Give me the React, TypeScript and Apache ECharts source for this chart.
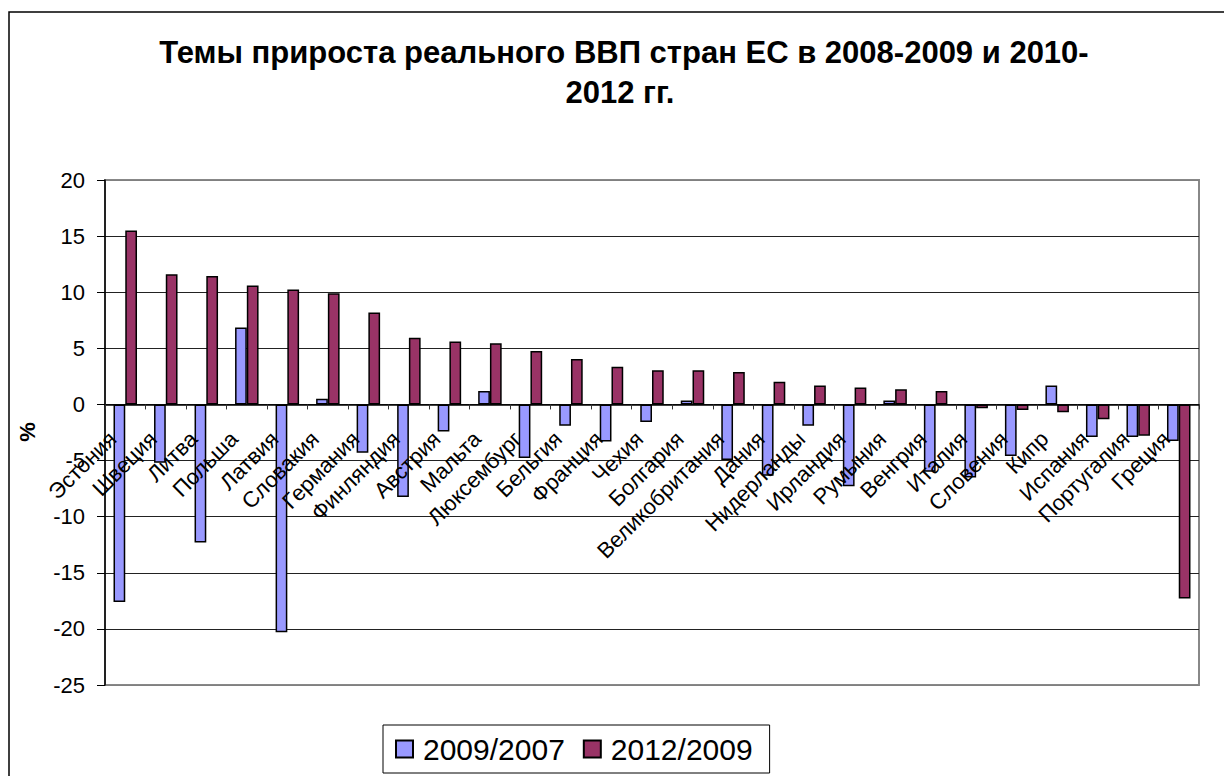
import React, { useEffect, useRef } from "react";
import * as echarts from "echarts";

const categories = [
  "Эстония", "Швеция", "Литва", "Польша", "Латвия", "Словакия", "Германия",
  "Финляндия", "Австрия", "Мальта", "Люксембург", "Бельгия", "Франция", "Чехия",
  "Болгария", "Великобритания", "Дания", "Нидерланды", "Ирландия", "Румыния",
  "Венгрия", "Италия", "Словения", "Кипр", "Испания", "Португалия", "Греция",
];

const growth2009_2007 = [
  -17.6, -5.2, -12.3, 6.85, -20.3, 0.5, -4.3, -8.25, -2.4, 1.2, -4.77, -1.9,
  -3.3, -1.56, 0.35, -4.95, -6.35, -1.9, -7.3, 0.35, -6.0, -6.5, -4.6, 1.68,
  -2.9, -2.9, -3.25,
];

const growth2012_2009 = [
  15.5, 11.6, 11.45, 10.6, 10.25, 9.9, 8.2, 5.95, 5.6, 5.45, 4.77, 4.05, 3.37,
  3.05, 3.05, 2.9, 2.03, 1.68, 1.5, 1.35, 1.2, -0.35, -0.5, -0.7, -1.32, -2.78,
  -17.3,
];

const seriesNames = ["2009/2007", "2012/2009"];
const titleLines = ["Темы прироста реального ВВП стран ЕС в 2008-2009 и 2010-", "2012 гг."];
const yTicks = { min: -25, max: 20, interval: 5 };

const FONT = "'Liberation Sans', Arial, sans-serif";

export default function App() {
  const ref = useRef<HTMLDivElement>(null);

  useEffect(() => {
    document.body.style.margin = "0";
    if (!ref.current) return;
    const chart = echarts.init(ref.current, undefined, { renderer: "svg" });
    const gridTop = 180;
    const gridBottomPx = 685;
    const zeroPx =
      gridTop + ((yTicks.max - 0) / (yTicks.max - yTicks.min)) * (gridBottomPx - gridTop);
    const splitColors = ["#808080", "#222", "#222", "#222", "#222", "#222", "#222", "#222", "#222", "#808080"];
    chart.setOption({
      animation: false,
      backgroundColor: "#fff",
      textStyle: { fontFamily: FONT },
      graphic: [
        {
          type: "rect",
          shape: { x: 9, y: 12, width: 1400, height: 1000 },
          style: { fill: "none", stroke: "#000", lineWidth: 1.5 },
          silent: true,
        },
        {
          type: "text",
          x: 624,
          y: 52,
          style: {
            text: titleLines[0],
            fontSize: 31,
            fontWeight: "bold",
            fontFamily: FONT,
            fill: "#000",
            align: "center",
            verticalAlign: "middle",
          },
        },
        {
          type: "text",
          x: 620,
          y: 92,
          style: {
            text: titleLines[1],
            fontSize: 31,
            fontWeight: "bold",
            fontFamily: FONT,
            fill: "#000",
            align: "center",
            verticalAlign: "middle",
          },
        },
        {
          type: "text",
          x: 27.5,
          y: 432,
          rotation: Math.PI / 2,
          style: {
            text: "%",
            fontSize: 22,
            fontWeight: "bold",
            fontFamily: FONT,
            fill: "#000",
            align: "center",
            verticalAlign: "middle",
          },
        },
      ],
      legend: {
        data: seriesNames,
        left: 383,
        top: 725,
        orient: "horizontal",
        icon: "rect",
        itemWidth: 17,
        itemHeight: 17,
        itemGap: 18,
        borderColor: "#000",
        borderWidth: 1,
        padding: [9, 17, 9, 12],
        textStyle: { fontSize: 30, color: "#000", fontFamily: FONT, padding: [0, 0, 0, 5] },
      },
      grid: {
        left: 105,
        top: gridTop,
        right: 25,
        bottom: 776 - gridBottomPx,
        show: true,
        borderColor: "#888",
        borderWidth: 2,
        backgroundColor: "transparent",
        containLabel: false,
        outerBoundsMode: "none",
      },
      xAxis: {
        type: "category",
        data: categories,
        boundaryGap: true,
        position: "bottom",
        offset: zeroPx - gridBottomPx,
        z: 3,
        axisLine: { onZero: false, lineStyle: { color: "#000", width: 1.5 } },
        axisTick: { show: true, length: 5, lineStyle: { color: "#333" } },
        axisLabel: {
          interval: 0,
          rotate: 45,
          margin: 18,
          padding: [0, 18, 0, 0],
          fontSize: 22,
          color: "#000",
          fontFamily: FONT,
          hideOverlap: false,
        },
        splitLine: { show: false },
      },
      yAxis: {
        type: "value",
        min: yTicks.min,
        max: yTicks.max,
        interval: yTicks.interval,
        axisLine: { show: true, lineStyle: { color: "#000", width: 1.5 } },
        axisTick: { show: true, length: 8, inside: false, lineStyle: { color: "#000" } },
        axisLabel: { fontSize: 22, color: "#000", margin: 20, fontFamily: FONT },
        splitLine: { show: true, lineStyle: { color: splitColors, width: 1 } },
      },
      series: [
        {
          name: seriesNames[0],
          type: "bar",
          data: growth2009_2007,
          barGap: "0%",
          barCategoryGap: "42%",
          itemStyle: { color: "#9999FF", borderColor: "#000", borderWidth: 1.5 },
        },
        {
          name: seriesNames[1],
          type: "bar",
          data: growth2012_2009,
          barGap: "0%",
          barCategoryGap: "42%",
          itemStyle: { color: "#993366", borderColor: "#000", borderWidth: 1.5 },
        },
      ],
    });
    return () => chart.dispose();
  }, []);

  return <div ref={ref} style={{ width: 1224, height: 776 }} />;
}
